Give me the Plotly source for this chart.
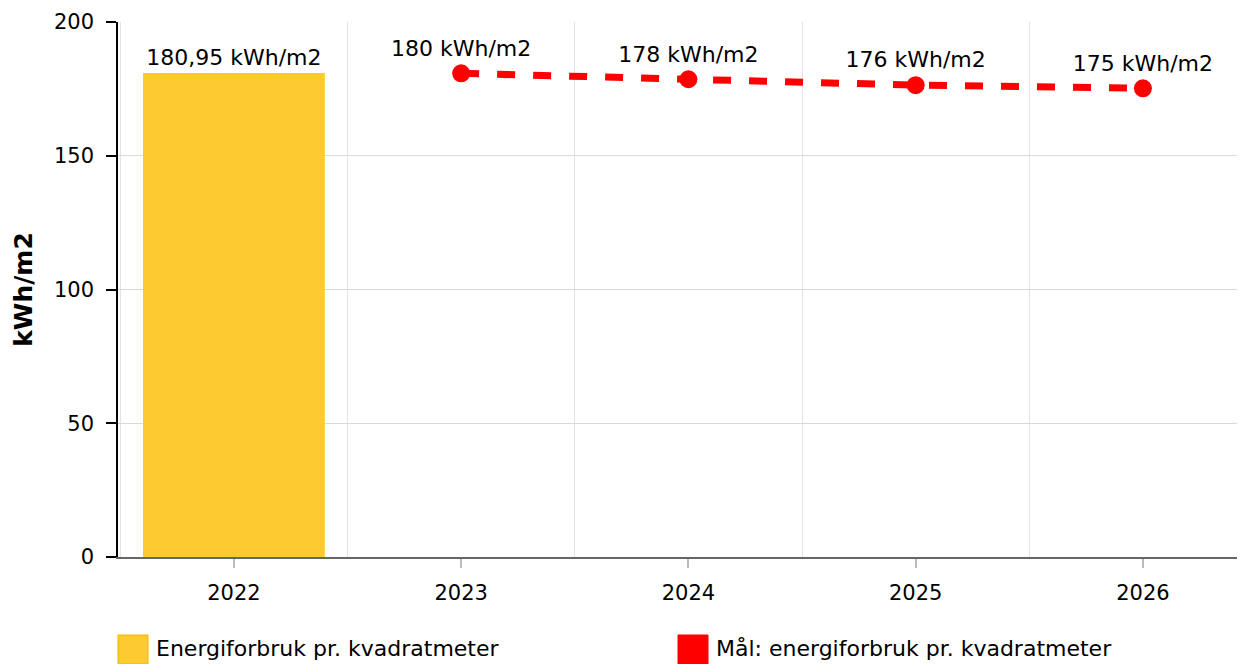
import plotly.graph_objects as go

years = ["2022", "2023", "2024", "2025", "2026"]

usage_years = [0]
usage_values = [180.95]
usage_labels = ["180,95 kWh/m2"]

target_years = [1, 2, 3, 4]
target_values = [180.8, 178.6, 176.4, 175.2]
target_labels = ["180 kWh/m2", "178 kWh/m2", "176 kWh/m2", "175 kWh/m2"]

legend_names = ["Energiforbruk pr. kvadratmeter", "Mål: energiforbruk pr. kvadratmeter"]

FONT = "Verdana, DejaVu Sans, sans-serif"
YELLOW = "#FDCA30"
RED = "#FF0000"

# page has an 8px body margin, so keep the figure inside the window
W, H = 1229, 656
L, R, T, B = 110, 0, 14, 107
PW, PH = W - L - R, H - T - B


def px_x(x):
    return (x - L) / PW


def px_y(y):
    return (H - B - y) / PH


figure = go.Figure()

figure.add_trace(
    go.Bar(
        x=usage_years,
        y=usage_values,
        width=0.8,
        marker=dict(color=YELLOW, line=dict(width=0)),
        text=usage_labels,
        textposition="outside",
        textfont=dict(size=22, color="#000"),
        cliponaxis=False,
        name=legend_names[0],
        showlegend=False,
    )
)

figure.add_trace(
    go.Scatter(
        x=target_years,
        y=target_values,
        mode="lines+markers+text",
        line=dict(color=RED, width=7, dash="18px,18px"),
        marker=dict(color=RED, size=18),
        text=target_labels,
        textposition="top center",
        textfont=dict(size=22, color="#000"),
        cliponaxis=False,
        name=legend_names[1],
        showlegend=False,
    )
)

# legend drawn by hand to get the large swatches
swatches = [(110, YELLOW, "#F2B600"), (670, RED, RED)]
for (x0, fill, edge), name in zip(swatches, legend_names):
    figure.add_shape(
        type="rect", xref="paper", yref="paper",
        x0=px_x(x0), x1=px_x(x0 + 30), y0=px_y(656), y1=px_y(627),
        fillcolor=fill, line=dict(color=edge, width=1),
    )
    figure.add_annotation(
        xref="paper", yref="paper", x=px_x(x0 + 36), y=px_y(640),
        text=name, showarrow=False, xanchor="left", yanchor="middle",
        font=dict(size=22, color="#000"),
    )

figure.update_layout(
    width=W,
    height=H,
    margin=dict(l=L, r=R, t=T, b=B),
    plot_bgcolor="white",
    paper_bgcolor="white",
    font=dict(family=FONT, size=21, color="#000"),
    bargap=0.2,
)

figure.update_xaxes(
    range=[-0.51, 4.414],
    tickvals=list(range(len(years))),
    ticktext=years,
    showgrid=False,
    showline=True,
    linecolor="#666",
    linewidth=1.5,
    ticks="outside",
    ticklen=9,
    tickcolor="#bbb",
    tickwidth=1.5,
    ticklabelstandoff=7,
    minor=dict(tick0=0.5, dtick=1, showgrid=True, gridcolor="#e3e3e3", gridwidth=1, ticks=""),
    zeroline=False,
)

figure.update_yaxes(
    range=[0, 200],
    tickvals=[0, 50, 100, 150, 200],
    showgrid=True,
    gridcolor="#d9d9d9",
    gridwidth=1,
    showline=True,
    linecolor="#000",
    linewidth=1.5,
    ticks="outside",
    ticklen=10,
    tickcolor="#000",
    tickwidth=1.5,
    ticklabelstandoff=8,
    zeroline=False,
    title=dict(text="<b>kWh/m2</b>", font=dict(size=25), standoff=14),
)

figure.write_html("out.html")
